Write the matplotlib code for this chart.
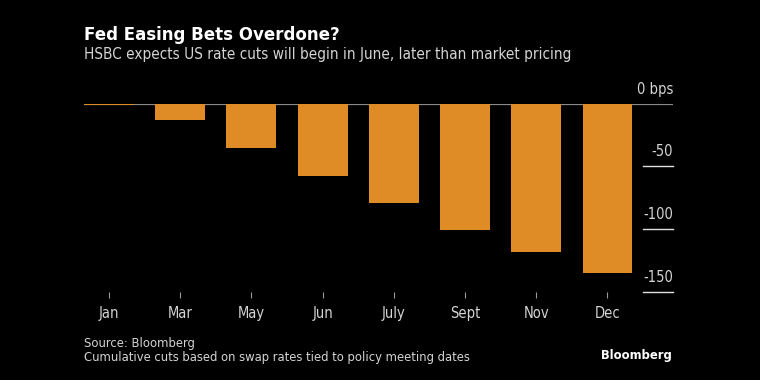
import matplotlib.pyplot as plt
from matplotlib import font_manager

# Data
months = ['Jan', 'Mar', 'May', 'Jun', 'July', 'Sept', 'Nov', 'Dec']
cuts_bps = [-0.8, -13.4, -35.2, -58.0, -79.3, -100.8, -118.6, -135.3]
y_ticks = [0, -50, -100, -150]
y_labels = ['0 bps', '-50', '-100', '-150']

# use a condensed face if there is one, otherwise shrink the sizes
has_cond = any(f.name == 'DejaVu Sans' and f.stretch == 'condensed'
               for f in font_manager.fontManager.ttflist)
plt.rcParams['font.family'] = ['DejaVu Sans']
if has_cond:
    plt.rcParams['font.stretch'] = 'condensed'
    k = 1.0
else:
    k = 0.9

bar_color = '#DF8B26'
text_color = '#d4d4d4'

fig = plt.figure(figsize=(7.6, 3.8), dpi=100, facecolor='black')
ax = fig.add_axes([84 / 760, 1 - 291.7 / 380, 589 / 760, (291.7 - 103.5) / 380])
ax.set_facecolor('black')

x = range(len(months))
ax.bar(x, cuts_bps, width=0.70, color=bar_color, zorder=3)
ax.set_xlim(-0.35, 7.92)
ax.set_ylim(-150, 0)

# zero line full width, other grid lines only under the labels at right
ax.axhline(0, color='#8a8a8a', lw=1.6, zorder=2)
for t, lab in zip(y_ticks, y_labels):
    if t != 0:
        ax.axhline(t, xmin=0.949, xmax=1.0, color='#e0e0e0', lw=1.0, clip_on=False)
    ax.annotate(lab, xy=(1.0, t), xycoords=('axes fraction', 'data'),
                xytext=(0, 5), textcoords='offset points',
                ha='right', va='bottom', color=text_color, fontsize=10.5 * k)

for s in ax.spines.values():
    s.set_visible(False)
ax.set_yticks([])
ax.set_xticks(list(x))
ax.set_xticklabels(months)
ax.tick_params(axis='x', colors='#9a9a9a', length=4, width=0.8, pad=6,
               labelcolor=text_color, labelsize=10.5 * k)

# Titles and footer
fig.text(84 / 760, 1 - 39.5 / 380, 'Fed Easing Bets Overdone?', color='white',
         fontsize=12, fontweight='bold', fontstretch='normal',
         ha='left', va='baseline')
fig.text(84 / 760, 1 - 58.5 / 380,
         'HSBC expects US rate cuts will begin in June, later than market pricing',
         color=text_color, fontsize=11 * k, ha='left', va='baseline')
fig.text(84 / 760, 1 - 347 / 380, 'Source: Bloomberg', color=text_color,
         fontsize=9.3 * k, ha='left', va='baseline')
fig.text(84 / 760, 1 - 361.5 / 380,
         'Cumulative cuts based on swap rates tied to policy meeting dates',
         color=text_color, fontsize=9.3 * k, ha='left', va='baseline')
fig.text(672 / 760, 1 - 359 / 380, 'Bloomberg', color='white', fontsize=9.3 * k,
         fontweight='bold', ha='right', va='baseline')

fig.savefig('out.png', dpi=100, facecolor='black')
